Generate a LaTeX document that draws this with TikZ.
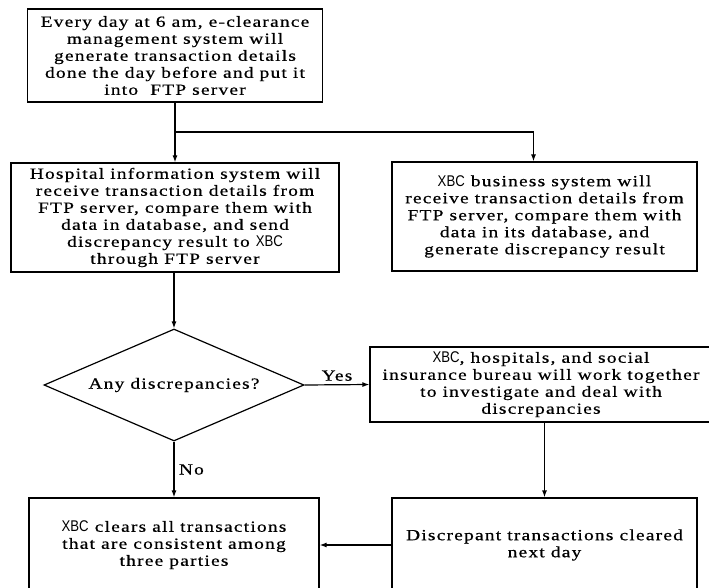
\documentclass[tikz,border=0pt]{standalone}
\usepackage{fontspec}
\setmainfont{Liberation Serif}[FakeStretch=1.25,LetterSpace=8,FakeBold=0.6]
\newfontfamily\xbcfont{Liberation Sans}[FakeStretch=0.85]
\usetikzlibrary{shapes.geometric,arrows.meta}
\newcommand{\XBC}{{\xbcfont XBC}}
\begin{document}
\begin{tikzpicture}[x=1pt,y=-1pt,
        box/.style={draw,line width=1.2pt,align=center,inner sep=0pt,
            font=\fontsize{15.5}{17}\selectfont},
        arr/.style={line width=1.2pt,-{Latex[length=7pt,width=5pt]}}]
    \useasboundingbox (0,0) rectangle (709,588);
    \clip (0,0) rectangle (709,588);
    % boxes
    \node[box,minimum width=295pt,minimum height=93pt] (gen) at (175,55.5)
        {Every day at 6 am, e-clearance\\ management system will\\ generate transaction details\\ done the day before and put it\\ into\ \ FTP server};
    \node[box,minimum width=328pt,minimum height=109pt] (his) at (175,217.5)
        {Hospital information system will\\ receive transaction details from\\ FTP server, compare them with\\ data in database, and send\\ discrepancy result to \XBC\\ through FTP server};
    \node[box,minimum width=305pt,minimum height=109pt] (xbc) at (544.5,216.5)
        {\XBC\ business system will\\ receive transaction details from\\ FTP server, compare them with\\ data in its database, and\\ generate discrepancy result};
    \node[box,shape=diamond,aspect=2.32,minimum width=260pt,minimum height=112pt] (dia) at (174,385)
        {Any discrepancies?};
    \node[box,minimum width=342pt,minimum height=75pt] (inv) at (541,384.5)
        {\XBC, hospitals, and social\\ insurance bureau will work together\\ to investigate and deal with\\ discrepancies};
    \node[box,minimum width=290pt,minimum height=94pt] (clr) at (174,545)
        {\XBC\ clears all transactions\\ that are consistent among\\ three parties};
    \node[box,minimum width=305pt,minimum height=94pt] (dct) at (544.5,545)
        {Discrepant transactions cleared\\ next day};
    % connectors
    \coordinate (split) at (175,132);
    \draw[line width=1.2pt] (gen) -- (split);
    \draw[arr] (split) -- (his);
    \draw[arr] (split) -| ([xshift=-11pt]xbc.north);
    \draw[arr] (his.south -| dia.north) -- (dia.north);
    \draw[arr] (dia.east) -- (inv.west)
        node[midway,above=0pt,font=\fontsize{15.5}{17}\selectfont] {Yes};
    \draw[arr] (dia.south) -- (clr.north)
        node[midway,right=1pt,font=\fontsize{15.5}{17}\selectfont] {No};
    \draw[arr] (dct.north |- inv.south) -- (dct.north);
    \draw[arr] (dct.west) -- (clr.east);
\end{tikzpicture}
\end{document}
